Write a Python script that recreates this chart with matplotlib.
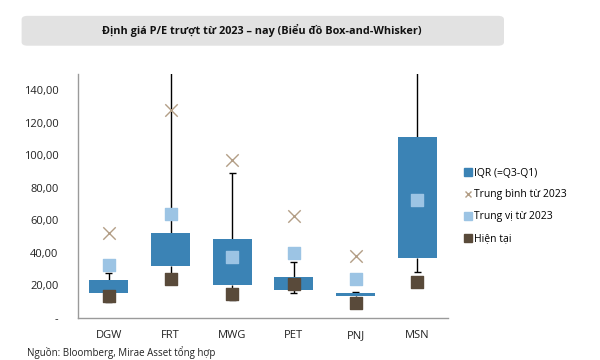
import numpy as np
import matplotlib.pyplot as plt
from matplotlib.patches import FancyBboxPatch
from matplotlib.lines import Line2D

plt.rcParams['font.family'] = ['Open Sans', 'DejaVu Sans']

# du lieu P/E
tickers = ['DGW', 'FRT', 'MWG', 'PET', 'PNJ', 'MSN']
q1 = [15.5, 32.1, 20.0, 17.0, 13.3, 37.0]
q3 = [23.3, 52.2, 48.7, 25.2, 15.4, 111.2]
whisker_low = [10.0, 21.0, 11.0, 15.2, 8.0, 28.3]
whisker_high = [27.4, 200.0, 89.0, 34.2, 16.0, 210.0]
mean_2023 = [52.0, 127.8, 97.0, 62.9, 38.1, 160.0]
median_2023 = [32.5, 64.0, 37.3, 40.1, 23.8, 72.3]
current = [13.7, 23.7, 14.5, 21.1, 9.2, 21.9]
yticks = [0, 20, 40, 60, 80, 100, 120, 140]

c_box = '#3B83B5'
c_med = '#9CC4E4'
c_cur = '#594A3A'
c_mean = '#B39E86'

fig = plt.figure(figsize=(6, 3.6), dpi=100)
ax = fig.add_axes([0.13, 0.1167, 0.6167, 0.6777])

x = np.arange(len(tickers))

# rau (whisker)
ax.vlines(x, q3, whisker_high, color='black', lw=1.0, zorder=1)
ax.vlines(x, whisker_low, q1, color='black', lw=1.0, zorder=1)
ax.hlines(whisker_high, x - 0.055, x + 0.055, color='black', lw=1.0, zorder=1)
ax.hlines(whisker_low, x - 0.055, x + 0.055, color='black', lw=1.0, zorder=1)

ax.bar(x, np.array(q3) - np.array(q1), bottom=q1, width=0.63, color=c_box, zorder=2)
ax.scatter(x, mean_2023, marker='x', s=80, color=c_mean, linewidths=1.0, zorder=3)
ax.scatter(x, median_2023, marker='s', s=85, color=c_med, zorder=3)
ax.scatter(x, current, marker='s', s=85, color=c_cur, zorder=4)

ax.set_xlim(-0.5, len(tickers) - 0.5)
ax.set_ylim(0, 150)
ax.set_xticks(x)
ax.set_xticklabels(tickers)
ax.set_yticks(yticks)
ax.set_yticklabels(['-' if v == 0 else f'{v:.2f}'.replace('.', ',') for v in yticks])
ax.tick_params(length=0, labelsize=8, colors='#222222')
ax.tick_params(axis='y', pad=14)
ax.tick_params(axis='x', pad=9)
for s in ['top', 'right']:
    ax.spines[s].set_visible(False)
for s in ['left', 'bottom']:
    ax.spines[s].set_color('#9a9a9a')
    ax.spines[s].set_linewidth(1.0)

handles = [
    Line2D([], [], marker='s', ls='', color=c_box, markersize=6),
    Line2D([], [], marker='x', ls='', color=c_mean, markersize=5, mew=1.0),
    Line2D([], [], marker='s', ls='', color=c_med, markersize=6),
    Line2D([], [], marker='s', ls='', color=c_cur, markersize=6),
]
labels = ['IQR (=Q3-Q1)', 'Trung bình từ 2023', 'Trung vị từ 2023', 'Hiện tại']
fig.legend(handles, labels, loc='center left', bbox_to_anchor=(0.768, 0.428),
           frameon=False, fontsize=7.5, handlelength=0.6, handletextpad=0.3,
           labelspacing=1.05, borderaxespad=0)

# khung tieu de
box = FancyBboxPatch((0.036, 0.873), 0.804, 0.083, boxstyle='round,pad=0,rounding_size=0.01',
                     transform=fig.transFigure, facecolor='#e2e2e2', edgecolor='none')
fig.patches.append(box)
fig.text(0.437, 0.914, 'Định giá P/E trượt từ 2023 – nay (Biểu đồ Box-and-Whisker)',
         ha='center', va='center', fontsize=7.8, fontweight='bold', color='#111111')

fig.text(0.045, 0.002, 'Nguồn: Bloomberg, Mirae Asset tổng hợp', ha='left', va='bottom',
         fontsize=7, color='#222222')

fig.savefig('out.png', dpi=100)
